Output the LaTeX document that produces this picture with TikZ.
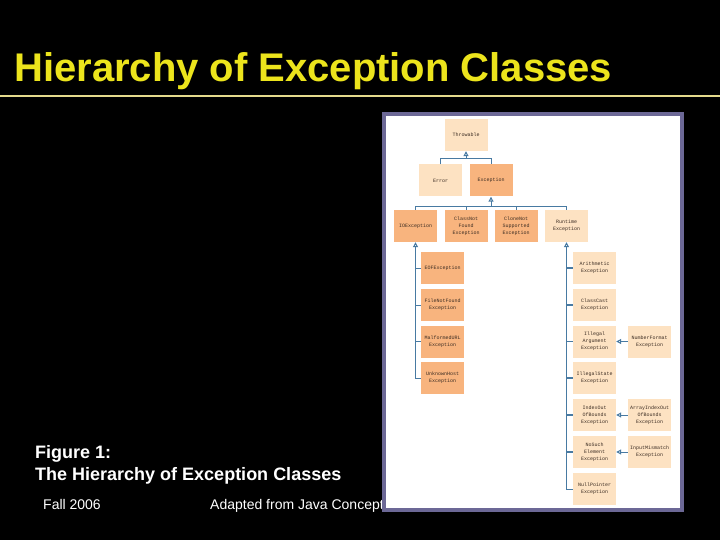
\documentclass[tikz,border=0pt]{standalone}
\usepackage{fontspec}
\setmainfont{Liberation Sans}
\newfontfamily\boxfont{Liberation Mono}
\usetikzlibrary{arrows.meta,calc}

\definecolor{titleyellow}{RGB}{236,228,28}
\definecolor{ruleyellow}{RGB}{228,218,140}
\definecolor{framegray}{RGB}{108,104,150}
\definecolor{lightpeach}{RGB}{253,226,194}
\definecolor{darkpeach}{RGB}{248,180,126}
\definecolor{linkblue}{RGB}{72,122,162}
\definecolor{boxtext}{RGB}{60,45,35}

\begin{document}
\begin{tikzpicture}[x=1pt,y=-1pt,
    cls/.style={minimum width=43pt, minimum height=32pt, inner sep=0pt, align=center,
      font=\boxfont\fontsize{5}{7}\selectfont, text=boxtext},
    light/.style={cls, fill=lightpeach},
    dark/.style={cls, fill=darkpeach},
    link/.style={draw=linkblue, line width=1pt},
    isa/.style={link, -{Triangle[open,length=5pt,width=5pt]}}]

  % Slide background
  \useasboundingbox (0,0) rectangle (720,540);
  \fill[black] (0,0) rectangle (720,540);

  % Title and rule
  \node[anchor=base west, text=titleyellow, font=\bfseries\fontsize{40}{44}\selectfont, inner sep=0pt]
    (title) at (14,82) {Hierarchy of Exception Classes};
  \draw[ruleyellow, line width=1.5pt] (0,96) -- (720,96);

  % Caption
  \node[anchor=base west, text=white, font=\bfseries\fontsize{18}{22}\selectfont, inner sep=0pt]
    (fig) at (35,458) {Figure 1:};
  \node[anchor=base west, text=white, font=\bfseries\fontsize{18}{22}\selectfont, inner sep=0pt]
    (caption) at (35,480) {The Hierarchy of Exception Classes};

  % Footer (partly under the figure)
  \node[anchor=base west, text=white, font=\fontsize{14}{16}\selectfont, inner sep=0pt]
    (term) at (43,509) {Fall 2006};
  \node[anchor=base west, text=white, font=\fontsize{14}{16}\selectfont, inner sep=0pt]
    (source) at (210,509) {Adapted from Java Concepts Companion Slides};

  % Frame around the figure
  \draw[framegray, line width=4pt, fill=white] (384,114) rectangle (681.5,509.5);

  % Top of the tree
  \node[light] (throwable) at (466,135) {Throwable};
  \node[light] (error) at (440.5,180.5) {Error};
  \node[dark] (exception) at (491,180.5) {Exception};

  % Checked and runtime branches
  \node[dark] (ioex) at (415.5,226) {IOException};
  \node[dark] (cnf) at (466,226) {ClassNot\\Found\\Exception};
  \node[dark] (clone) at (516,226) {CloneNot\\Supported\\Exception};
  \node[light] (runtime) at (566.5,226) {Runtime\\Exception};

  % IOException subclasses
  \node[dark] (eof) at (442.5,268) {EOFException};
  \node[dark] (filenf) at (442.5,305) {FileNotFound\\Exception};
  \node[dark] (malformed) at (442.5,341.5) {MalformedURL\\Exception};
  \node[dark] (unknownhost) at (442.5,378) {UnknownHost\\Exception};

  % RuntimeException subclasses
  \node[light] (arith) at (594.5,268) {Arithmetic\\Exception};
  \node[light] (classcast) at (594.5,305) {ClassCast\\Exception};
  \node[light] (illegalarg) at (594.5,341.5) {Illegal\\Argument\\Exception};
  \node[light] (illegalstate) at (594.5,378) {IllegalState\\Exception};
  \node[light] (indexoob) at (594.5,415) {IndexOut\\OfBounds\\Exception};
  \node[light] (nosuch) at (594.5,452) {NoSuch\\Element\\Exception};
  \node[light] (nullptr) at (594.5,489) {NullPointer\\Exception};

  % Third level
  \node[light] (numformat) at (649.5,341.5) {NumberFormat\\Exception};
  \node[light] (arrayoob) at (649.5,415) {ArrayIndexOut\\OfBounds\\Exception};
  \node[light] (mismatch) at (649.5,452) {InputMismatch\\Exception};

  % Connectors
  \coordinate (j1) at ($(throwable.south)+(0,7)$);
  \draw[link] (error.north) |- (j1) -| (exception.north);
  \draw[isa] (j1) -- (throwable.south);

  \coordinate (j2) at ($(exception.south)+(0,10)$);
  \draw[link] (ioex.north) |- (j2) -| (runtime.north);
  \draw[link] (cnf.north) -- (cnf.north |- j2);
  \draw[link] (clone.north) -- (clone.north |- j2);
  \draw[isa] (j2) -- (exception.south);

  \draw[isa] (unknownhost.west) -| (ioex.south);
  \foreach \n in {eof,filenf,malformed}
    \draw[link] (\n.west) -- (\n.west -| ioex.south);

  \draw[isa] (nullptr.west) -| (runtime.south);
  \foreach \n in {arith,classcast,illegalarg,illegalstate,indexoob,nosuch}
    \draw[link, line width=1.5pt] (\n.west) -- (\n.west -| runtime.south);

  \draw[isa] (numformat.west) -- (illegalarg.east);
  \draw[isa] (arrayoob.west) -- (indexoob.east);
  \draw[isa] (mismatch.west) -- (nosuch.east);
\end{tikzpicture}
\end{document}
